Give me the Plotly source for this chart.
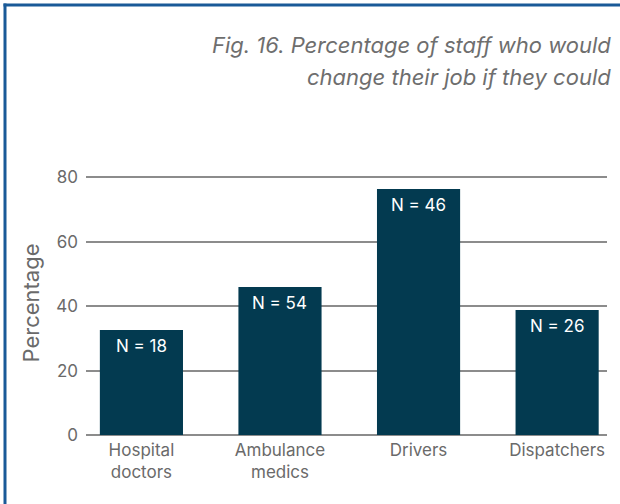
import plotly.graph_objects as go

# Staff groups and the share who would change their job
categories = ["Hospital<br>doctors", "Ambulance<br>medics", "Drivers", "Dispatchers"]
percentages = [32.6, 46.0, 76.4, 38.8]
sample_sizes = [18, 54, 46, 26]
y_ticks = [0, 20, 40, 60, 80]
title_lines = ["Fig. 16. Percentage of staff who would", "change their job if they could"]

BAR = "#033a50"
GRID = "#8c8c8c"
TEXT = "#6a6a6a"
BORDER = "#1a5a98"
FONT = "Inter"

W, H = 620, 504
L, R, T, B = 86, 13, 171, 69
pw, ph = W - L - R, H - T - B

fig = go.Figure()
fig.add_trace(go.Bar(
    x=list(range(len(categories))),
    y=percentages,
    width=0.6,
    marker=dict(color=BAR, line=dict(width=0)),
    hoverinfo="skip",
))

# "N = .." labels just under the top of each bar
for i, (v, n) in enumerate(zip(percentages, sample_sizes)):
    fig.add_annotation(
        x=i, y=v, xref="x", yref="y",
        text=f"N = {n}", showarrow=False,
        yanchor="middle", yshift=-16,
        font=dict(family=FONT, size=17, color="white"),
    )

# Frame: top and left rules
def px_x(p):
    return (p - L) / pw

def px_y(p):
    return (H - B - p) / ph

fig.add_shape(type="line", xref="paper", yref="paper",
              x0=px_x(3.5), x1=px_x(630), y0=px_y(5), y1=px_y(5),
              line=dict(color=BORDER, width=3))
fig.add_shape(type="line", xref="paper", yref="paper",
              x0=px_x(5), x1=px_x(5), y0=px_y(3.5), y1=px_y(520),
              line=dict(color=BORDER, width=3))

# Title, right aligned and italic, one annotation per line
for line, ypx in zip(title_lines, [45, 77]):
    fig.add_annotation(
        xref="paper", yref="paper",
        x=px_x(613), y=px_y(ypx),
        xanchor="right", yanchor="middle", align="right",
        text=f"<i>{line}</i>",
        showarrow=False,
        font=dict(family=FONT, size=22, color="#6e6e6e"),
    )

fig.update_layout(
    width=W, height=H,
    margin=dict(l=L, r=R, t=T, b=B, autoexpand=False),
    paper_bgcolor="white", plot_bgcolor="white",
    showlegend=False,
    font=dict(family=FONT, color=TEXT),
    xaxis=dict(
        tickmode="array",
        tickvals=list(range(len(categories))),
        ticktext=categories,
        range=[-0.4, 3.36],
        showgrid=False, zeroline=False, showline=False,
        ticks="", tickfont=dict(size=17, color=TEXT),
        ticklabelstandoff=3,
        automargin=False,
    ),
    yaxis=dict(
        range=[0, 82],
        tickmode="array", tickvals=y_ticks,
        showgrid=True, gridcolor=GRID, gridwidth=2,
        zeroline=True, zerolinecolor=GRID, zerolinewidth=2,
        showline=False, ticks="",
        tickfont=dict(size=17, color=TEXT),
        ticklabelstandoff=7,
        title=dict(text="Percentage", font=dict(size=22, color=TEXT), standoff=10),
        automargin=False,
    ),
)

fig.write_html("out.html")
